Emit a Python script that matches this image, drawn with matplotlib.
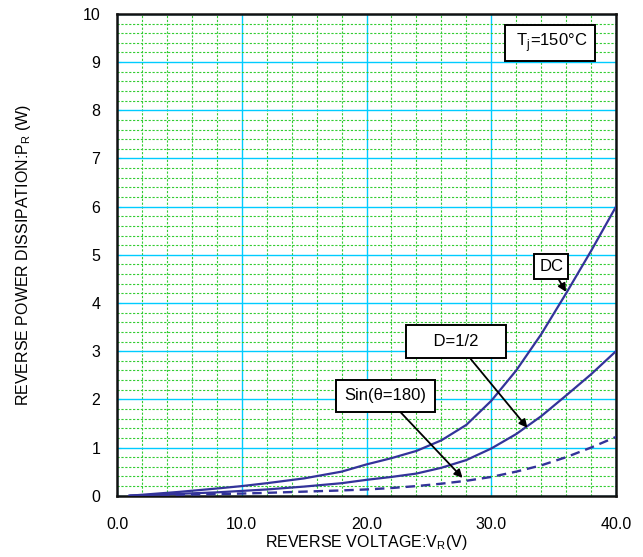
import numpy as np
import matplotlib.pyplot as plt
from matplotlib.ticker import MultipleLocator

plt.rcParams['font.family'] = ['Liberation Sans', 'DejaVu Sans']

# values
vr = [1.0, 3.0, 5.0, 8.0, 10.0, 12.0, 15.0, 18.0, 20.0, 22.0, 24.0, 26.0, 28.0,
      30.0, 32.0, 34.0, 36.0, 38.0, 40.0]
p_dc = [0.0, 0.04, 0.08, 0.15, 0.2, 0.26, 0.36, 0.5, 0.65, 0.78, 0.93, 1.15, 1.47,
        1.97, 2.6, 3.35, 4.2, 5.08, 6.0]
p_half = [0.0, 0.02, 0.04, 0.07, 0.1, 0.13, 0.19, 0.26, 0.33, 0.39, 0.46, 0.58, 0.74,
          0.98, 1.28, 1.65, 2.08, 2.52, 3.0]
p_sin = [0.0, 0.01, 0.02, 0.035, 0.045, 0.06, 0.085, 0.11, 0.13, 0.16, 0.2, 0.25, 0.31,
         0.39, 0.5, 0.63, 0.8, 1.0, 1.22]

line_col = '#33339a'

fig, ax = plt.subplots(figsize=(6.43, 5.57), dpi=100)
fig.subplots_adjust(left=0.182, right=0.958, top=0.975, bottom=0.11)

ax.plot(vr, p_dc, color=line_col, lw=1.6, zorder=3)
ax.plot(vr, p_half, color=line_col, lw=1.6, zorder=3)
ax.plot(vr, p_sin, color=line_col, lw=1.7, ls=(0, (4, 2.5)), zorder=3)

ax.set_xlim(0, 40)
ax.set_ylim(0, 10)
ax.xaxis.set_major_locator(MultipleLocator(10))
ax.xaxis.set_minor_locator(MultipleLocator(2))
ax.yaxis.set_major_locator(MultipleLocator(1))
ax.yaxis.set_minor_locator(MultipleLocator(0.2))
ax.set_xticks([0, 10, 20, 30, 40])
ax.set_xticklabels(['0.0', '10.0', '20.0', '30.0', '40.0'])
ax.grid(which='minor', color='#33cc33', lw=0.8, ls=(0, (2, 1.5)))
ax.grid(which='major', color='#00ccff', lw=1.0, ls='-')
ax.set_axisbelow(True)
ax.tick_params(which='both', direction='in', labelsize=11.5, length=3, color='#00ccff')
ax.tick_params(which='minor', length=0)
ax.tick_params(axis='x', pad=15)
ax.tick_params(axis='y', pad=12)
for s in ax.spines.values():
    s.set_linewidth(1.8)
    s.set_color('#111111')

ax.set_xlabel('REVERSE VOLTAGE:V$_\\mathregular{R}$(V)', fontsize=11.5, labelpad=1)
ax.set_ylabel('REVERSE POWER DISSIPATION:P$_\\mathregular{R}$ (W)', fontsize=11.5, labelpad=36)

arr = dict(arrowstyle='-|>', color='black', lw=1.3, mutation_scale=12, shrinkA=0, shrinkB=0)

def boxed(pad):
    return dict(boxstyle='square,pad=%s' % pad, fc='white', ec='black', lw=1.4)

ax.text(34.7, 9.4, ' T$_\\mathregular{j}$=150°C ', fontsize=12, ha='center', va='center',
        bbox=boxed(0.4))
ax.annotate('DC', xy=(36.0, 4.23), xytext=(34.8, 4.75), fontsize=12, ha='center', va='center',
            bbox=boxed(0.3), arrowprops=arr, zorder=4)
ax.annotate('    D=1/2    ', xy=(32.9, 1.41), xytext=(27.2, 3.2), fontsize=12, ha='center', va='center',
            bbox=boxed(0.55), arrowprops=arr, zorder=4)
ax.annotate('Sin(θ=180)', xy=(27.7, 0.37), xytext=(21.5, 2.07), fontsize=12, ha='center', va='center',
            bbox=boxed(0.5), arrowprops=arr, zorder=4)

fig.savefig('out.png', dpi=100)
